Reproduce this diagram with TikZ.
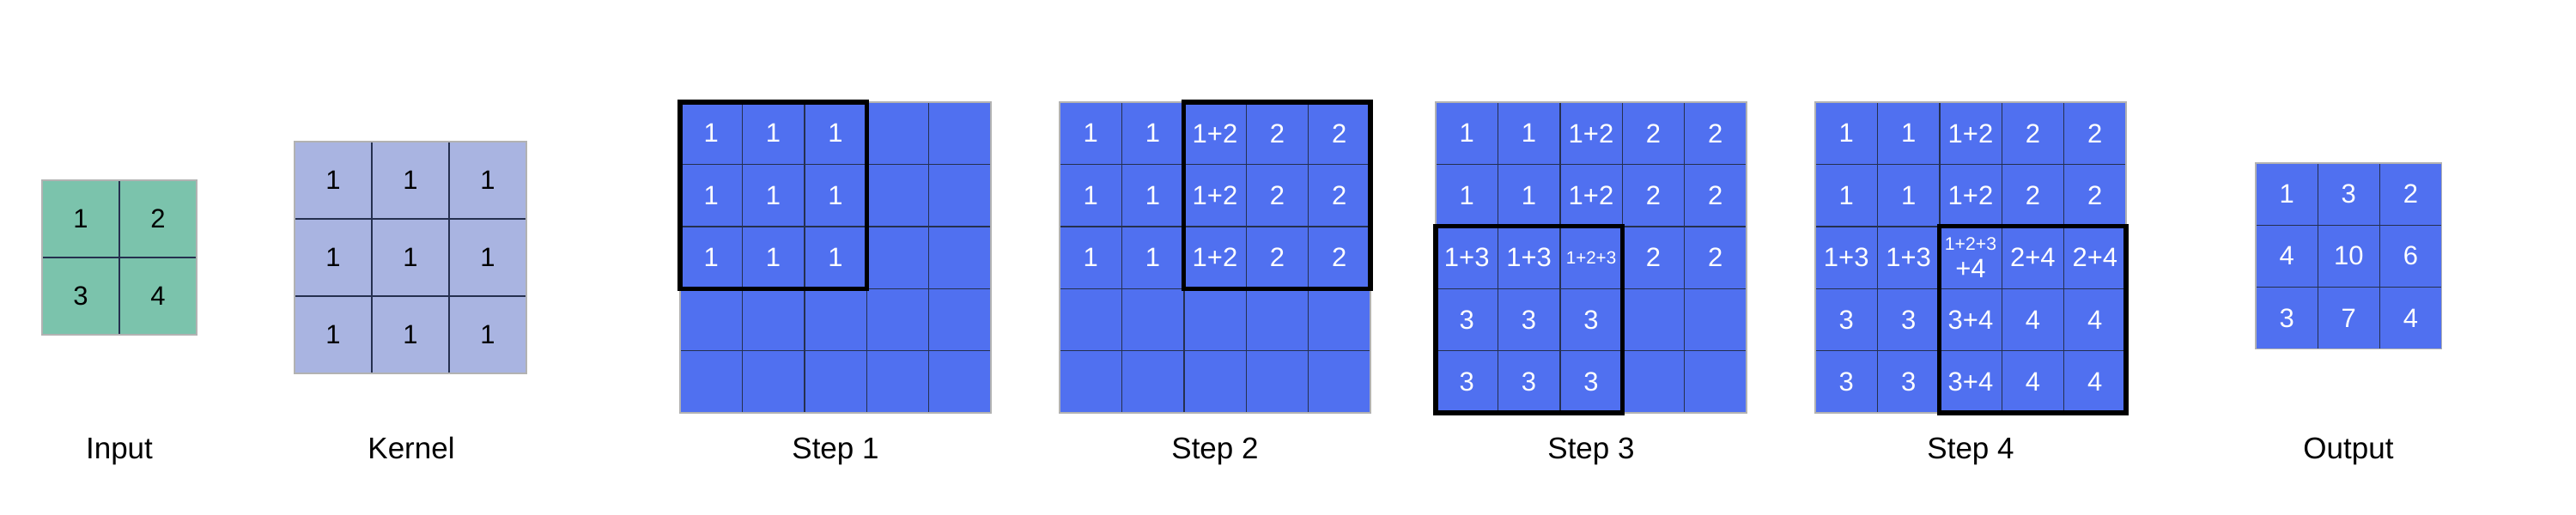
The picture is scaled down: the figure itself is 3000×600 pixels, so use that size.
\documentclass[tikz,border=0pt]{standalone}
\usepackage{fontspec}
\setmainfont{Liberation Sans}
\definecolor{ingreen}{HTML}{7BC3AC}
\definecolor{kerlav}{HTML}{A9B4E1}
\definecolor{stepblue}{HTML}{5070F0}
\definecolor{gridc}{HTML}{25304F}
\tikzset{
  cellbase/.style={draw=gridc, line width=0.7pt, inner sep=0pt, outer sep=0pt,
    minimum width=\csz*0.5pt, minimum height=\csz*0.5pt, align=center,
    font=\fontsize{15.5}{16}\selectfont},
  incell/.style={cellbase, fill=ingreen, text=black},
  kercell/.style={cellbase, fill=kerlav, text=black},
  bluecell/.style={cellbase, fill=stepblue, text=white},
  border/.style={draw=gray!60, line width=0.7pt},
  window/.style={draw=black, line width=2.6pt},
  caption/.style={anchor=base, font=\fontsize{17.5}{19}\selectfont, inner sep=0pt},
}
\newcommand\gridrow[6]{%
  \foreach \t [count=\c] in {#6} {%
    \node[#5] (#1-#2-\c) at ({#3+(\c-0.5)*\csz},{#4+(#2-0.5)*\csz}) {\t};
  }%
}
\begin{document}
\begin{tikzpicture}[x=0.5pt, y=-0.5pt]
\useasboundingbox (0,0) rectangle (3000,600);

% Input
\def\csz{90}
\gridrow{in}{1}{49}{210}{incell}{1,2}
\gridrow{in}{2}{49}{210}{incell}{3,4}
\draw[border] (in-1-1.north west) rectangle (in-2-2.south east);
\node[caption] (lin) at (139,534) {Input};

% Kernel
\gridrow{ke}{1}{343}{165}{kercell}{1,1,1}
\gridrow{ke}{2}{343}{165}{kercell}{1,1,1}
\gridrow{ke}{3}{343}{165}{kercell}{1,1,1}
\draw[border] (ke-1-1.north west) rectangle (ke-3-3.south east);
\node[caption] (lke) at (479,534) {Kernel};

% Step 1
\def\csz{72.4}
\gridrow{sa}{1}{792}{119}{bluecell}{1,1,1,{},{}}
\gridrow{sa}{2}{792}{119}{bluecell}{1,1,1,{},{}}
\gridrow{sa}{3}{792}{119}{bluecell}{1,1,1,{},{}}
\gridrow{sa}{4}{792}{119}{bluecell}{{},{},{},{},{}}
\gridrow{sa}{5}{792}{119}{bluecell}{{},{},{},{},{}}
\draw[border] (sa-1-1.north west) rectangle (sa-5-5.south east);
\draw[window] (sa-1-1.north west) rectangle (sa-3-3.south east);
\node[caption] (lsa) at (973,534) {Step 1};

% Step 2
\gridrow{sb}{1}{1234}{119}{bluecell}{1,1,1+2,2,2}
\gridrow{sb}{2}{1234}{119}{bluecell}{1,1,1+2,2,2}
\gridrow{sb}{3}{1234}{119}{bluecell}{1,1,1+2,2,2}
\gridrow{sb}{4}{1234}{119}{bluecell}{{},{},{},{},{}}
\gridrow{sb}{5}{1234}{119}{bluecell}{{},{},{},{},{}}
\draw[border] (sb-1-1.north west) rectangle (sb-5-5.south east);
\draw[window] (sb-1-3.north west) rectangle (sb-3-5.south east);
\node[caption] (lsb) at (1415,534) {Step 2};

% Step 3
\gridrow{sc}{1}{1672}{119}{bluecell}{1,1,1+2,2,2}
\gridrow{sc}{2}{1672}{119}{bluecell}{1,1,1+2,2,2}
\gridrow{sc}{3}{1672}{119}{bluecell}{1+3,1+3,{\fontsize{10.3}{11}\selectfont 1+2+3},2,2}
\gridrow{sc}{4}{1672}{119}{bluecell}{3,3,3,{},{}}
\gridrow{sc}{5}{1672}{119}{bluecell}{3,3,3,{},{}}
\draw[border] (sc-1-1.north west) rectangle (sc-5-5.south east);
\draw[window] (sc-3-1.north west) rectangle (sc-5-3.south east);
\node[caption] (lsc) at (1853,534) {Step 3};

% Step 4
\gridrow{sd}{1}{2114}{119}{bluecell}{1,1,1+2,2,2}
\gridrow{sd}{2}{2114}{119}{bluecell}{1,1,1+2,2,2}
\gridrow{sd}{3}{2114}{119}{bluecell}{1+3,1+3,{\fontsize{10.6}{13}\selectfont 1+2+3\\+4},2+4,2+4}
\gridrow{sd}{4}{2114}{119}{bluecell}{3,3,3+4,4,4}
\gridrow{sd}{5}{2114}{119}{bluecell}{3,3,3+4,4,4}
\draw[border] (sd-1-1.north west) rectangle (sd-5-5.south east);
\draw[window] (sd-3-3.north west) rectangle (sd-5-5.south east);
\node[caption] (lsd) at (2295,534) {Step 4};

% Output
\def\csz{72.2}
\gridrow{ou}{1}{2627}{190}{bluecell}{1,3,2}
\gridrow{ou}{2}{2627}{190}{bluecell}{4,10,6}
\gridrow{ou}{3}{2627}{190}{bluecell}{3,7,4}
\draw[border] (ou-1-1.north west) rectangle (ou-3-3.south east);
\node[caption] (lou) at (2735,534) {Output};
\end{tikzpicture}
\end{document}
